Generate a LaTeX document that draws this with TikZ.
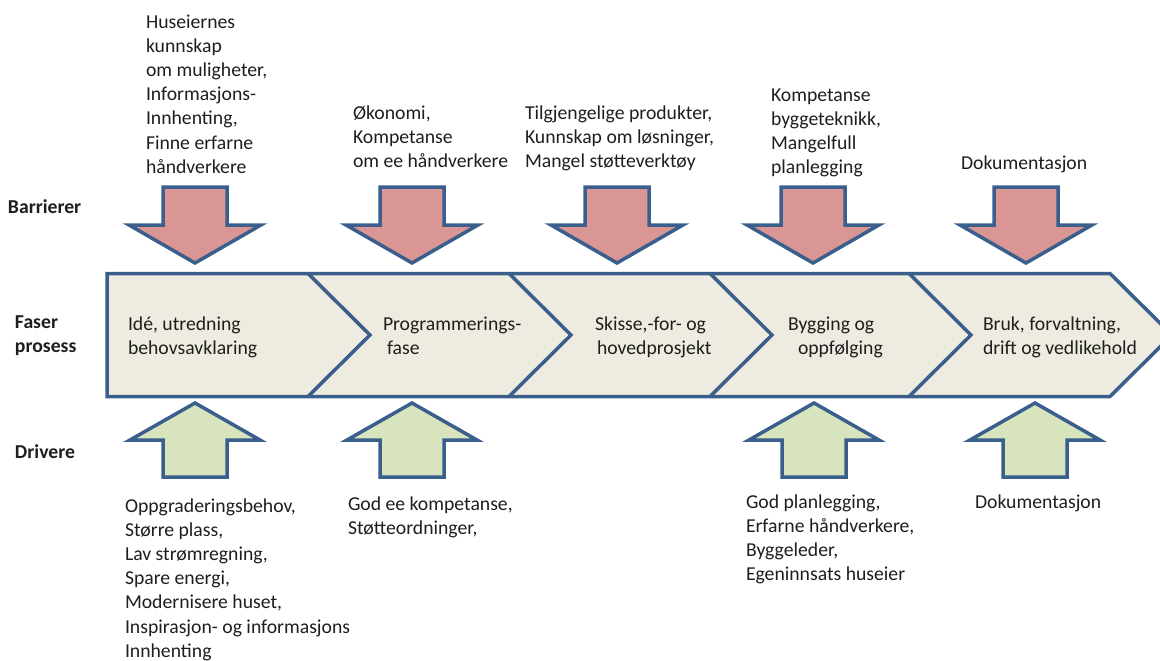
\documentclass[tikz,border=0pt]{standalone}
\usepackage{fontspec}
\setmainfont{Carlito}
\definecolor{bordc}{HTML}{3A5F8C}
\definecolor{beige}{HTML}{EEECE1}
\definecolor{redf}{HTML}{D99694}
\definecolor{greenf}{HTML}{D7E4BD}
\definecolor{txtc}{HTML}{1E1E1E}
\begin{document}
\begin{tikzpicture}[x=1pt,y=-1pt,
  bord/.style={draw=bordc, line width=3.5pt, line join=miter},
  txt/.style={font=\fontsize{19.7}{24.2}\selectfont, inner sep=0pt, outer sep=0pt, align=left, text=txtc, anchor=base west},
  lbl/.style={txt, font=\fontsize{19.7}{24.2}\selectfont\bfseries},
  downarr/.pic={\draw[bord, fill=redf] (-32,0) -- (32,0) -- (32,38) -- (66,38) -- (0,76) -- (-66,38) -- (-32,38) -- cycle;},
  uparr/.pic={\draw[bord, fill=greenf] (0,0) -- (65,37) -- (32,37) -- (32,74) -- (-32,74) -- (-32,37) -- (-65,37) -- cycle;}
]
\useasboundingbox (0,0) rectangle (1160,661);
\begin{scope}
  \clip (0,0) rectangle (1160,661);
  \draw[bord, fill=beige] (107,273.5) -- (1110,273.5) -- (1172,335) -- (1110,396.5) -- (107,396.5) -- cycle;
  \foreach \b in {308,509,710,909} \draw[bord] (\b,273.5) -- (\b+62,335) -- (\b,396.5);
\end{scope}
% barrier arrows
\pic (r1) at (195,187) {downarr};
\pic (r2) at (412,187) {downarr};
\pic (r3) at (617,187) {downarr};
\pic (r4) at (813,187) {downarr};
\pic (r5) at (1026,187) {downarr};
% driver arrows
\pic (g1) at (195,403) {uparr};
\pic (g2) at (412,403) {uparr};
\pic (g4) at (814,403) {uparr};
\pic (g5) at (1035,403) {uparr};
% row labels (anchor = baseline of last line)
\node[lbl] (lb) at (8,213) {Barrierer};
\node[lbl] (lf) at (15,352.2) {Faser\\prosess};
\node[lbl] (ld) at (15,458) {Drivere};
% phases
\node[txt] (p1) at (128,354.2) {Idé, utredning\\behovsavklaring};
\node[txt] (p2) at (383,354.2) {Programmerings-\\\hspace*{4pt}fase};
\node[txt] (p3) at (595,354.2) {Skisse,-for- og\\\hspace*{2pt}hovedprosjekt};
\node[txt] (p4) at (788,354.2) {Bygging og\\\hspace*{10pt}oppfølging};
\node[txt] (p5) at (983,354.2) {Bruk, forvaltning,\\drift og vedlikehold};
% barrier texts
\node[txt] (t1) at (146,173.2) {Huseiernes\\kunnskap\\om muligheter,\\Informasjons-\\Innhenting,\\Finne erfarne\\håndverkere};
\node[txt] (t2) at (353,167.4) {Økonomi,\\Kompetanse\\om ee håndverkere};
\node[txt] (t3) at (525,167.4) {Tilgjengelige produkter,\\Kunnskap om løsninger,\\Mangel støtteverktøy};
\node[txt] (t4) at (771,173.6) {Kompetanse\\byggeteknikk,\\Mangelfull\\planlegging};
\node[txt] (t5) at (961,169) {Dokumentasjon};
% driver texts
\node[txt] (b1) at (125,657.2) {Oppgraderingsbehov,\\Større plass,\\Lav strømregning,\\Spare energi,\\Modernisere huset,\\Inspirasjon- og informasjons\\Innhenting};
\node[txt] (b2) at (348,534.2) {God ee kompetanse,\\Støtteordninger,};
\node[txt] (b4) at (746,580.6) {God planlegging,\\Erfarne håndverkere,\\Byggeleder,\\Egeninnsats huseier};
\node[txt] (b5) at (975,508) {Dokumentasjon};
\end{tikzpicture}
\end{document}
